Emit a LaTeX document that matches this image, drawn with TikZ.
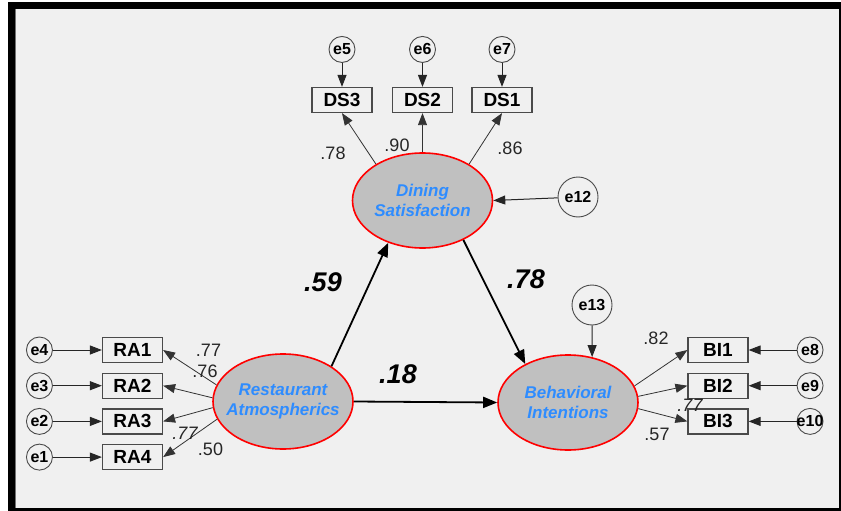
\documentclass[tikz,border=0pt]{standalone}
\usepackage{fontspec}
\setmainfont{Liberation Sans}
\usetikzlibrary{arrows.meta,positioning,shapes.geometric}
\definecolor{panel}{HTML}{F0F0F0}
\definecolor{latgray}{HTML}{C0C0C0}
\definecolor{latblue}{HTML}{2E8CFF}
\definecolor{boxline}{HTML}{4A4A4A}

\begin{document}
\begin{tikzpicture}[
  x=1pt, y=-1pt,
  latent/.style = {ellipse, draw=red, fill=latgray, line width=1.6pt,
                   minimum width=140pt, minimum height=95pt, inner sep=-20pt,
                   align=center, text=latblue,
                   font=\fontsize{17}{20}\selectfont\bfseries\itshape},
  obs/.style    = {draw=boxline, fill=panel, line width=1.2pt,
                   minimum width=60pt, minimum height=25pt, inner sep=0pt,
                   font=\fontsize{19}{19}\selectfont\bfseries},
  err/.style    = {circle, draw=boxline, line width=0.9pt, minimum size=26pt,
                   inner sep=-4pt, font=\fontsize{16}{16}\selectfont\bfseries},
  errbig/.style = {err, minimum size=40pt},
  ind/.style    = {-{Triangle[length=12pt,width=9pt]}, line width=0.8pt, black!80},
  ear/.style    = {-{Triangle[length=12pt,width=9pt]}, line width=1pt, black!85},
  pth/.style    = {-{Triangle[length=14pt,width=11pt]}, line width=1.8pt, black},
  wt/.style     = {font=\fontsize{18}{18}\selectfont, text=black!85, inner sep=0pt},
  coef/.style   = {font=\fontsize{27}{27}\selectfont\bfseries\itshape, inner sep=0pt},
]
\useasboundingbox (0,0) rectangle (841,511);

% ----------------------------- frame ---------------------------------------
\fill[white] (0,0) rectangle (841,511);
\fill[black] (8,2) rectangle (841,511);
\fill[panel] (15,9.5) rectangle (838.5,508);
\draw[black!55, line width=1.2pt] (15.6,9.5) -- (15.6,508);

% ----------------------------- latent variables ----------------------------
\node[latent] (ds) at (422.5,200.5) {Dining\\Satisfaction};
\node[latent] (ra) at (283,401.5) {Restaurant\\Atmospherics};
\node[latent] (bi) at (568,402.5) {Behavioral\\Intentions};

% ----------------------------- dining satisfaction items --------------------
\node[obs] (ds3) at (342,100) {DS3};
\node[obs] (ds2) at (422.5,100) {DS2};
\node[obs] (ds1) at (502,100) {DS1};
\node[err, above=24pt of ds3] (e5) {e5};
\node[err, above=24pt of ds2] (e6) {e6};
\node[err, above=24pt of ds1] (e7) {e7};
\draw[ear] (e5) -- (ds3);
\draw[ear] (e6) -- (ds2);
\draw[ear] (e7) -- (ds1);
\draw[ind] (ds.142) -- (ds3.south);
\draw[ind] (ds.north) -- (ds2.south);
\draw[ind] (ds.38) -- (ds1.south);
\node[wt] (w1) at (333,153) {.78};
\node[wt] (w2) at (397,145) {.90};
\node[wt] (w3) at (510,148) {.86};

% ----------------------------- restaurant atmospherics items ----------------
\node[obs] (ra1) at (132.5,350) {RA1};
\node[obs, below=9.5pt of ra1] (ra2) {RA2};
\node[obs, below=9.5pt of ra2] (ra3) {RA3};
\node[obs, below=9.5pt of ra3] (ra4) {RA4};
\node[err, left=49pt of ra1] (e4) {e4};
\node[err, left=49pt of ra2] (e3) {e3};
\node[err, left=49pt of ra3] (e2) {e2};
\node[err, left=49pt of ra4] (e1) {e1};
\draw[ear] (e4) -- (ra1);
\draw[ear] (e3) -- (ra2);
\draw[ear] (e2) -- (ra3);
\draw[ear] (e1) -- (ra4);
\draw[ind] (ra.166) -- (ra1.east);
\draw[ind] (ra.177) -- (ra2.east);
\draw[ind] (ra.185) -- (ra3.east);
\draw[ind] (ra.195) -- (ra4.east);
\node[wt] (w4) at (208.5,350.5) {.77};
\node[wt] (w5) at (205,371.5) {.76};
\node[wt, font=\fontsize{18}{18}\selectfont\itshape] (w6) at (185,433.5) {.77};
\node[wt] (w7) at (210.5,449.5) {.50};

% ----------------------------- behavioral intentions items ------------------
\node[obs] (bi1) at (718,350) {BI1};
\node[obs, below=9.5pt of bi1] (bi2) {BI2};
\node[obs, below=9.5pt of bi2] (bi3) {BI3};
\node[err, right=48pt of bi1] (e8) {e8};
\node[err, right=48pt of bi2] (e9) {e9};
\node[err, right=48pt of bi3] (e10) {e10};
\draw[ear] (e8) -- (bi1);
\draw[ear] (e9) -- (bi2);
\draw[ear] (e10) -- (bi3);
\draw[ind] (bi.14) -- (bi1.west);
\draw[ind] (bi.5) -- (bi2.west);
\draw[ind] (bi.355) -- (bi3.west);
\node[wt] (w8) at (656,338) {.82};
\node[wt, font=\fontsize{18}{18}\selectfont\itshape] (w9) at (690,405) {.77};
\node[wt] (w10) at (657,434) {.57};

% ----------------------------- disturbances ---------------------------------
\node[errbig] (e12) at (578,197) {e12};
\node[errbig] (e13) at (592,305) {e13};
\draw[ear] (e12) -- (ds.east);
\draw[ear] (e13) -- (bi.62);

% ----------------------------- structural paths -----------------------------
\draw[pth] (ra.36) -- (ds.231);
\draw[pth] (ds.316) -- (bi.138);
\draw[pth] (ra.east) -- (bi.west);
\node[coef] (c1) at (323,282) {.59};
\node[coef] (c2) at (526,279) {.78};
\node[coef] (c3) at (398,374) {.18};

\end{tikzpicture}
\end{document}
